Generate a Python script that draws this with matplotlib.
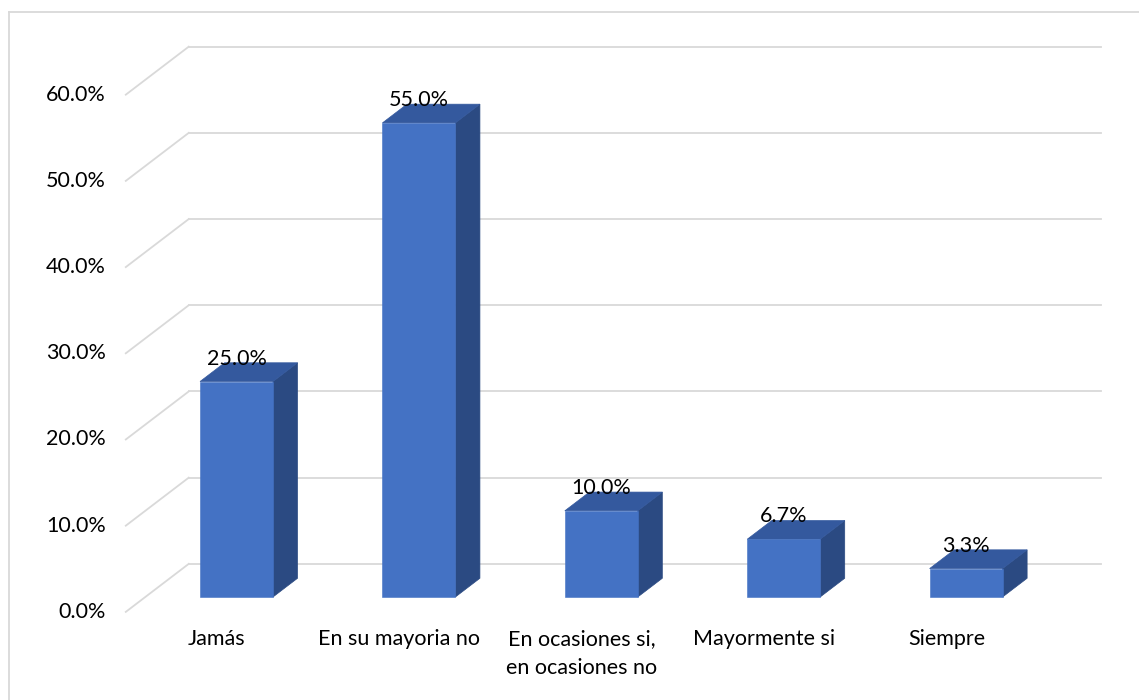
import matplotlib
matplotlib.use('Agg')
import matplotlib.pyplot as plt
from matplotlib.patches import Rectangle, Polygon
from matplotlib.lines import Line2D

plt.rcParams['font.family'] = ['Lato', 'DejaVu Sans']

# data
categorias = ['Jamás', 'En su mayoria no', 'En ocasiones si,\nen ocasiones no',
              'Mayormente si', 'Siempre']
porcentajes = [25.0, 55.0, 10.0, 6.7, 3.3]
ticks = [0, 10, 20, 30, 40, 50, 60]

# colours
c_frente = '#4472C4'
c_lado = '#2B4A82'
c_techo = '#34599E'
c_grid = '#D9D9D9'

W, H = 1139, 700
fig = plt.figure(figsize=(W / 100, H / 100), dpi=100)
ax = fig.add_axes([0, 0, 1, 1])
ax.axis('off')

# scale: one category = 182.4 px, one percent = 8.62 px
cat_px, x0_px = 182.4, 236.5
pct_px, y0_px = 8.62, 597
ax.set_xlim(-x0_px / cat_px, (W - x0_px) / cat_px)
ax.set_ylim((y0_px - H) / pct_px, y0_px / pct_px)

# depth of the 3d box (data units) and where the bars sit in it
Dx, Dy = 0.345, 5.57
t_front, t_back = -0.31, 0.69
t_bar = 0.39
ancho = 0.40
x_izq, x_der = -0.5, len(categorias) - 0.5

# side wall diagonals + back wall gridlines
for t in ticks:
    xf, yf = x_izq + t_front * Dx, t + t_front * Dy
    xb, yb = x_izq + t_back * Dx, t + t_back * Dy
    ax.plot([xf, xb], [yf, yb], color=c_grid, lw=1.3, zorder=1)
    ax.plot([xb, x_der + t_back * Dx], [yb, yb], color=c_grid, lw=1.3, zorder=1)
    ax.text(xf - 0.11, yf, f'{t:.1f}%', ha='right', va='center',
            fontsize=15.5, color='#000000')

# bars: front face, right side and top
bdx, bdy = t_bar * Dx, t_bar * Dy
for i, v in enumerate(porcentajes):
    l, r = i - ancho / 2, i + ancho / 2
    ax.add_patch(Polygon([(r, 0), (r + bdx, bdy), (r + bdx, v + bdy), (r, v)],
                         closed=True, facecolor=c_lado, edgecolor=c_lado,
                         lw=0.5, zorder=3))
    ax.add_patch(Polygon([(l, v), (r, v), (r + bdx, v + bdy), (l + bdx, v + bdy)],
                         closed=True, facecolor=c_techo, edgecolor=c_techo,
                         lw=0.5, zorder=3))
    ax.add_patch(Rectangle((l, 0), ancho, v, facecolor=c_frente,
                           edgecolor=c_frente, lw=0.4, zorder=4))
    ax.text(i, v + 1.95, f'{v:.1f}%', ha='center', va='baseline',
            fontsize=15.5, color='#000000', zorder=5)

# category labels under the floor
for i, c in enumerate(categorias):
    ax.text(i + t_front * Dx, -3.75, c, ha='center', va='top',
            fontsize=15.5, linespacing=1.55, color='#000000')

# chart area border
fig.add_artist(Line2D([8.5 / W, 8.5 / W], [0, 1 - 11.5 / H], color=c_grid, lw=1.3))
fig.add_artist(Line2D([8.5 / W, 1], [1 - 11.5 / H, 1 - 11.5 / H], color=c_grid, lw=1.3))

fig.savefig('out.png', dpi=100)
